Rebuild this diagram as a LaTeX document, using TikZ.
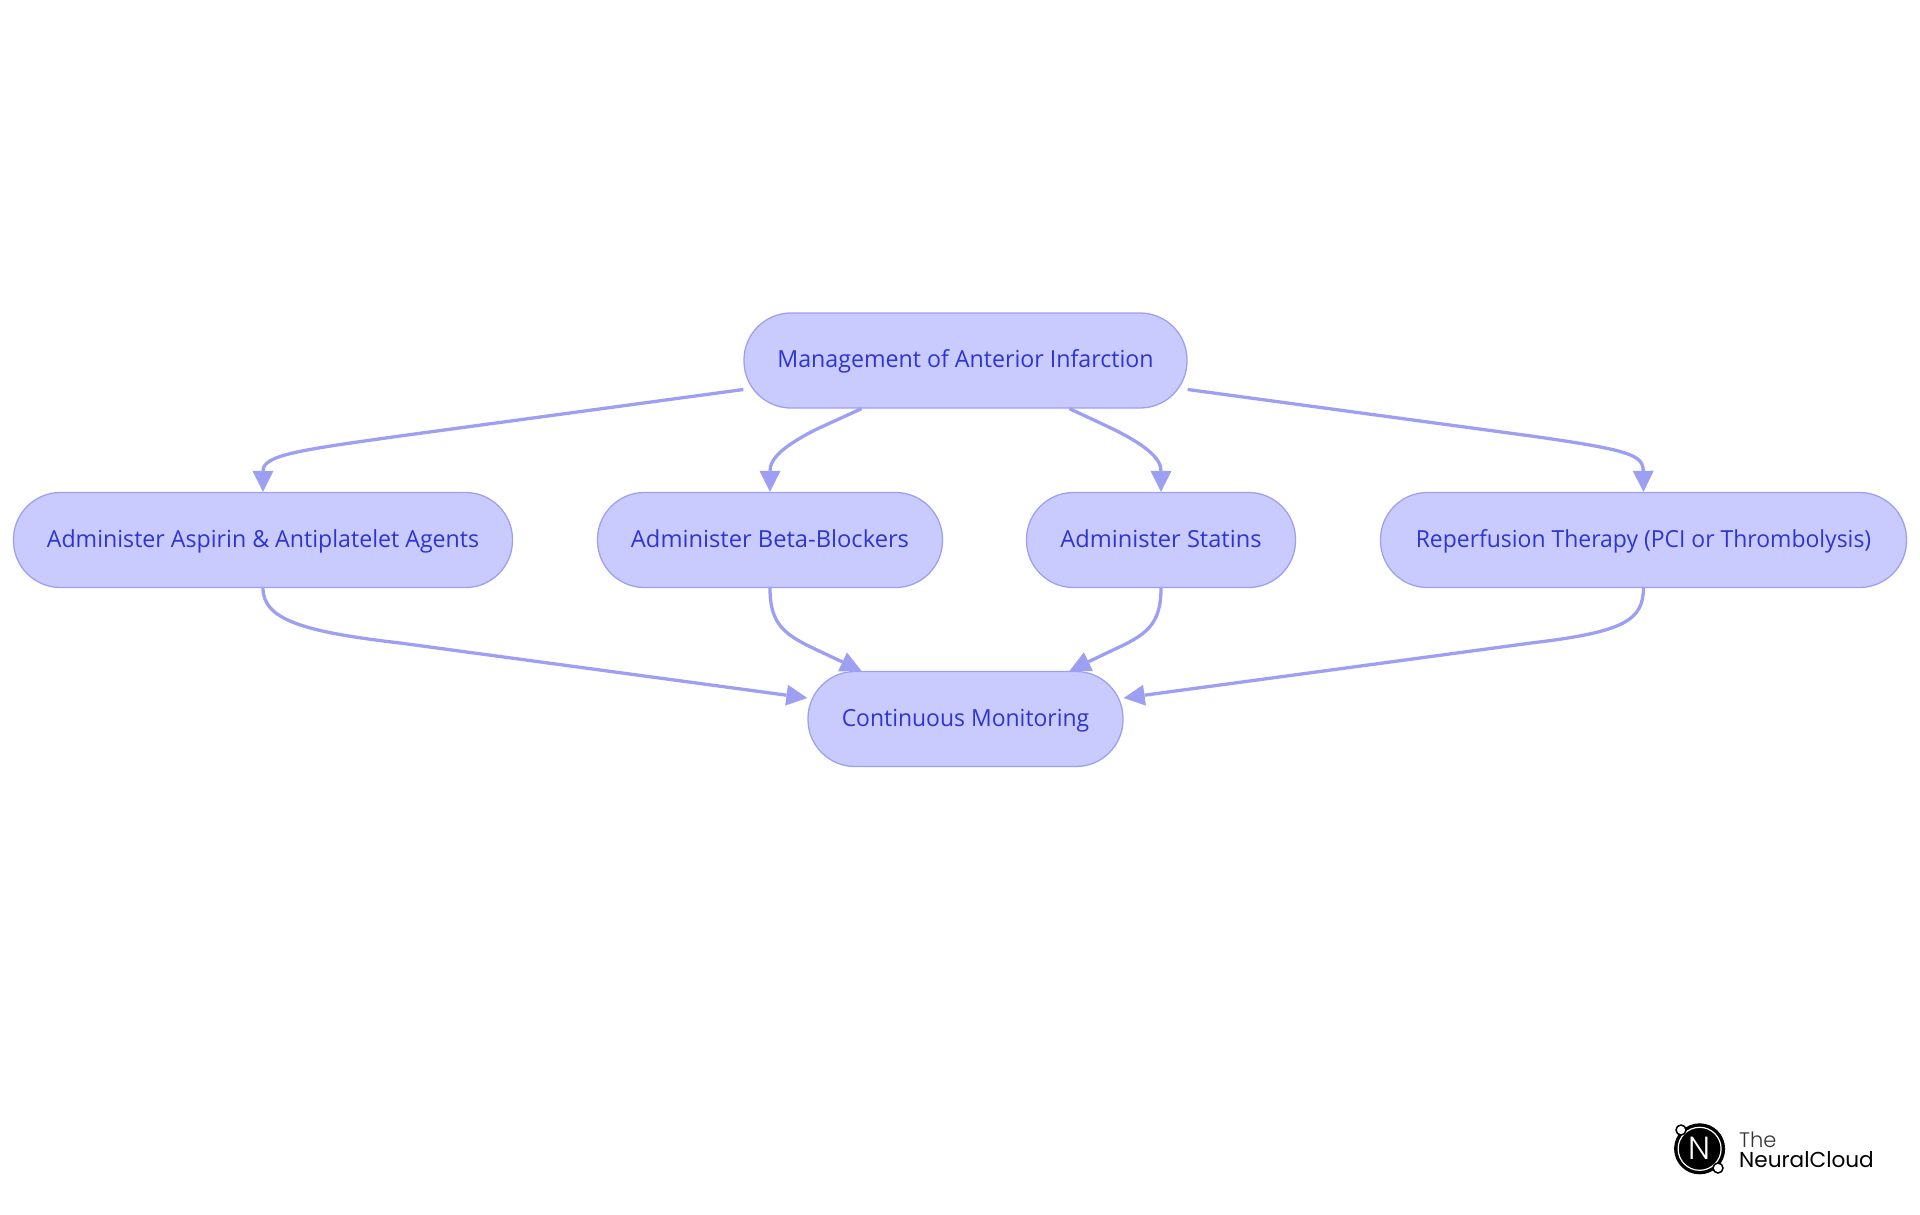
\documentclass[tikz,border=0pt]{standalone}
\usepackage{fontspec}
\setmainfont{Open Sans}
\newfontfamily\logofont{Poppins Light}
\newfontfamily\logofontb{Poppins}
\usetikzlibrary{arrows.meta}
\definecolor{boxfill}{HTML}{C9CBFF}
\definecolor{boxline}{HTML}{9DA0F2}
\definecolor{boxtext}{HTML}{2E35D0}
\newcommand{\fitted}[2]{\addfontfeature{FakeStretch=#1}#2}
\tikzset{
  x=1pt,y=-1pt,
  flowbox/.style={draw=boxline,fill=boxfill,line width=1.3pt,rounded corners=47pt,text=boxtext,
    font=\fontsize{23.5}{28}\selectfont,minimum height=95pt,inner sep=0pt,anchor=center,
    text height=20pt,text depth=6pt},
  flow/.style={draw=boxline,line width=3.3pt,-{Triangle[length=21pt,width=21pt,fill=boxline,line width=0pt]}},
  logodot/.style={circle,fill=white,draw=black,line width=1.5pt,minimum size=10pt,inner sep=0pt},
}
\begin{document}
\begin{tikzpicture}
\useasboundingbox (0,0) rectangle (1920,1215);
\node[flowbox,minimum width=443pt] (top) at (965.5,360.5) {\fitted{0.987}{Management of Anterior Infarction}};
\node[flowbox,minimum width=499pt] (a) at (263,540) {\fitted{0.986}{Administer Aspirin \& Antiplatelet Agents}};
\node[flowbox,minimum width=345pt] (b) at (770,540) {\fitted{1.009}{Administer Beta-Blockers}};
\node[flowbox,minimum width=269pt] (c) at (1161,540) {\fitted{1.006}{Administer Statins}};
\node[flowbox,minimum width=526pt] (d) at (1643.5,540) {\fitted{0.976}{Reperfusion Therapy (PCI or Thrombolysis)}};
\node[flowbox,minimum width=315pt] (e) at (965.5,719) {\fitted{0.976}{Continuous Monitoring}};
\draw[flow] ([yshift=-29pt]top.west) -- (400,436) .. controls (300,450) and (263,455) .. (a.north);
\draw[flow] ([xshift=-104pt]top.south) -- (817,429) .. controls (785,445) and (770,458) .. (b.north);
\draw[flow] ([xshift=104pt]top.south) -- (1113,429) .. controls (1145,445) and (1161,458) .. (c.north);
\draw[flow] ([yshift=-29pt]top.east) -- (1531,436) .. controls (1630,450) and (1643,455) .. (d.north);
\draw[flow] (a.south) .. controls (263,620) and (305,632) .. (400,643) -- ([yshift=21pt]e.west);
\draw[flow] (b.south) .. controls (770,625) and (785,635) .. (817,650) -- ([xshift=-104pt]e.north);
\draw[flow] (c.south) .. controls (1161,625) and (1146,635) .. (1113,650) -- ([xshift=104pt]e.north);
\draw[flow] (d.south) .. controls (1643,620) and (1625,632) .. (1531,643) -- ([yshift=21pt]e.east);
% logo
\node[circle,fill=black,draw=black,line width=1pt,minimum size=50pt,inner sep=0pt] (logo) at (1699.6,1148.8) {};
\draw[white,line width=1.2pt] (logo.center) circle (21.5pt);
\node[text=white,font=\logofont\fontsize{32}{32}\selectfont,inner sep=0pt] (logoN) at (1699.6,1148.8) {N};
\node[logodot] (logoA) at (1681,1130) {};
\node[logodot] (logoB) at (1718,1168) {};
\node[anchor=base west,font=\logofont\fontsize{21}{21}\selectfont,text=black!80,inner sep=0pt] (logoT) at (1739,1147) {The};
\node[anchor=base west,font=\logofontb\fontsize{21.6}{21.6}\selectfont,text=black,inner sep=0pt] (logoC) at (1739,1167) {NeuralCloud};
\end{tikzpicture}
\end{document}
